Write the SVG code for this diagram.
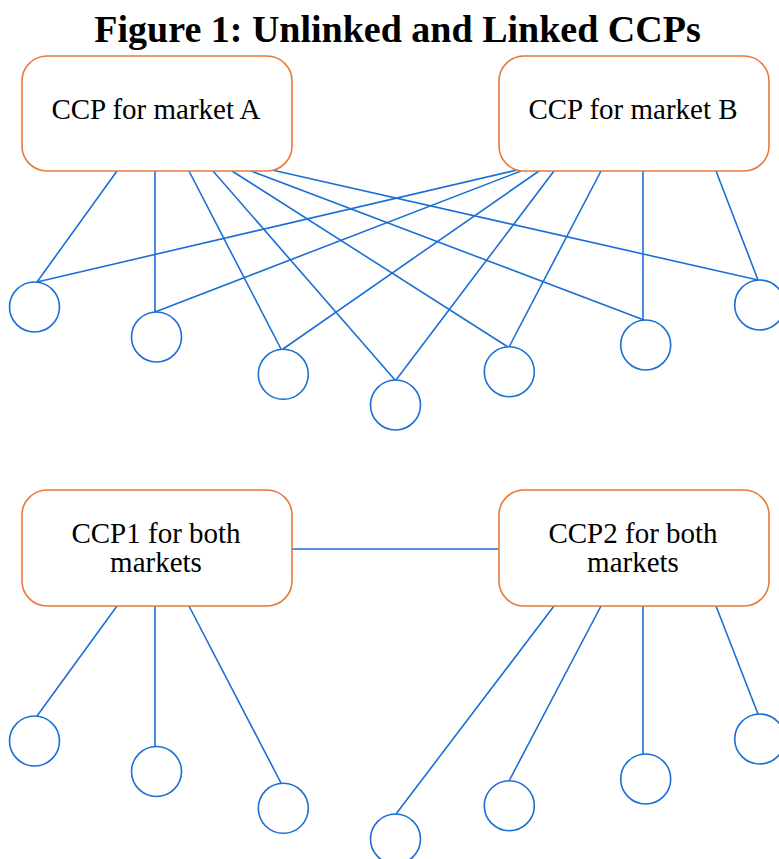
<svg xmlns="http://www.w3.org/2000/svg" width="779" height="859" viewBox="0 0 779 859">
<style>
.box{fill:#ffffff;stroke:#e8793a;stroke-width:1.6}
.lbl{font-family:"Liberation Serif","Times New Roman",serif;font-size:29px;fill:#000;text-anchor:middle}
.title{font-family:"Liberation Serif","Times New Roman",serif;font-size:38px;font-weight:bold;fill:#000;text-anchor:middle}
.c{fill:#ffffff;stroke:#1a6fd6;stroke-width:1.6}
.e line{stroke:#1a6fd6;stroke-width:1.6}
</style>
<rect width="779" height="859" fill="#ffffff"/>
<text class="title" x="397.5" y="42">Figure 1: Unlinked and Linked CCPs</text>
<g id="connectors" class="e">
<line x1="117" y1="171" x2="37" y2="282"/>
<line x1="155" y1="171" x2="155" y2="312"/>
<line x1="189" y1="171" x2="281" y2="349"/>
<line x1="213" y1="171" x2="395" y2="380"/>
<line x1="232" y1="171" x2="508" y2="347"/>
<line x1="251" y1="171" x2="644" y2="320"/>
<line x1="272" y1="170" x2="758" y2="280"/>
<line x1="517" y1="170" x2="37" y2="282"/>
<line x1="521" y1="171" x2="155" y2="312"/>
<line x1="539" y1="171" x2="283" y2="349"/>
<line x1="554" y1="171" x2="396" y2="380"/>
<line x1="601" y1="171" x2="509" y2="347"/>
<line x1="643" y1="171" x2="643" y2="320"/>
<line x1="716" y1="171" x2="758" y2="280"/>
<line x1="292" y1="549" x2="499" y2="549"/>
<line x1="117" y1="606" x2="37" y2="716"/>
<line x1="155" y1="606" x2="155" y2="746"/>
<line x1="189" y1="606" x2="281" y2="783"/>
<line x1="554" y1="606" x2="396" y2="814"/>
<line x1="601" y1="606" x2="509" y2="781"/>
<line x1="643" y1="606" x2="643" y2="754"/>
<line x1="716" y1="606" x2="758" y2="714"/>
</g>
<g id="ccpA"><rect class="box" x="22" y="56" width="270" height="115" rx="25"/><text class="lbl" x="156" y="119">CCP for market A</text></g>
<g id="ccpB"><rect class="box" x="499" y="56" width="270" height="115" rx="25"/><text class="lbl" x="633" y="119">CCP for market B</text></g>
<g id="ccp1"><rect class="box" x="22" y="490" width="270" height="116" rx="25"/><text class="lbl" x="156" y="543">CCP1 for both</text><text class="lbl" x="156" y="572">markets</text></g>
<g id="ccp2"><rect class="box" x="499" y="490" width="270" height="116" rx="25"/><text class="lbl" x="633" y="543">CCP2 for both</text><text class="lbl" x="633" y="572">markets</text></g>
<g id="t1"><circle class="c" cx="34.5" cy="307" r="25"/></g>
<g id="t2"><circle class="c" cx="156.5" cy="337" r="25"/></g>
<g id="t3"><circle class="c" cx="283.3" cy="374.3" r="25"/></g>
<g id="t4"><circle class="c" cx="395.5" cy="405" r="25"/></g>
<g id="t5"><circle class="c" cx="509.3" cy="371.7" r="25"/></g>
<g id="t6"><circle class="c" cx="645.7" cy="345" r="25"/></g>
<g id="t7"><circle class="c" cx="759.7" cy="305" r="25"/></g>
<g id="b1"><circle class="c" cx="34.5" cy="741" r="25"/></g>
<g id="b2"><circle class="c" cx="156.5" cy="771.5" r="25"/></g>
<g id="b3"><circle class="c" cx="283.3" cy="808.3" r="25"/></g>
<g id="b4"><circle class="c" cx="395.5" cy="839" r="25"/></g>
<g id="b5"><circle class="c" cx="509.3" cy="805.7" r="25"/></g>
<g id="b6"><circle class="c" cx="645.7" cy="779" r="25"/></g>
<g id="b7"><circle class="c" cx="759.7" cy="739" r="25"/></g>
</svg>
